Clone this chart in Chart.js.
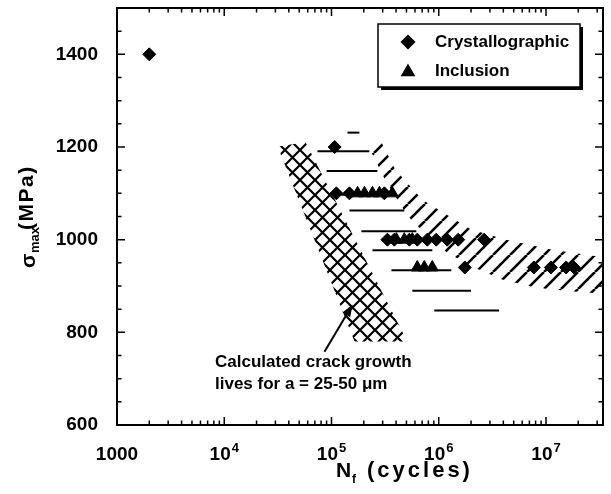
<!DOCTYPE html>
<html>
<head>
<meta charset="utf-8">
<script src="https://cdn.jsdelivr.net/npm/chart.js@4.4.1/dist/chart.umd.min.js"></script>
<style>
  html, body { margin: 0; padding: 0; background: #fff; }
  #wrap { width: 611px; height: 494px; }
</style>
</head>
<body>
<div id="wrap"><canvas id="chart" width="611" height="494"></canvas></div>
<script>
// Fatigue lives (cycles) and peak stress (MPa)
const crystN = [2000, 107000, 111000, 147000, 311000, 332000, 385000, 532000, 631000, 782000, 948000, 1200000, 1520000, 2650000, 1750000, 7700000, 11100000, 15400000, 18200000];
const crystS = [1400, 1200, 1100, 1100, 1100, 1000, 1000, 1000, 1000, 1000, 1000, 1000, 1000, 1000, 940, 940, 940, 940, 940];

const inclN = [175000, 203000, 241000, 280000, 369000, 403000, 477000, 567000, 631000, 733000, 870000];
const inclS = [1100, 1100, 1100, 1100, 1100, 1000, 1000, 1000, 940, 940, 940];

// horizontal hatch dashes of the scatter band (stress, start, end)
const dashS = [1231, 1191, 1148, 1097, 1063, 1018, 977, 934, 890, 847];
const dashFrom = [141000, 74000, 90000, 114000, 147000, 190000, 241000, 362000, 567000, 908000];
const dashTo = [182000, 225000, 268000, 385000, 477000, 618000, 871000, 1310000, 2000000, 3650000];

// diagonal-hatched part of the band: upper and lower edges
const bandTopN = [292000, 394000, 703000, 1310000, 2000000, 4250000, 11400000, 36000000];
const bandTopS = [1210, 1151, 1086, 1048, 1022, 1000, 978, 961];
const bandLowN = [236000, 318000, 509000, 816000, 1200000, 2140000, 3900000, 8100000, 18200000, 36000000];
const bandLowS = [1188, 1128, 1052, 1004, 972, 940, 914, 896, 888, 883];

// calculated crack growth lives, a = 25-50 um
const crackN = [31500, 57300, 509000, 164000];
const crackS = [1201, 1210, 780, 780];

// arrow from the note to the crack growth band
const arrowN = [86000, 157000];
const arrowS = [758, 860];

const xTickValues = [1e3, 1e4, 1e5, 1e6, 1e7];
const xTickBase = ['1000', '10', '10', '10', '10'];
const xTickExp = ['', '4', '5', '6', '7'];
const yTickValues = [600, 800, 1000, 1200, 1400];

const FONT = '"Liberation Sans", Arial, Helvetica, sans-serif';
Chart.defaults.font.family = FONT;
Chart.defaults.color = '#000';

const canvas = document.getElementById('chart');
const ctx0 = canvas.getContext('2d');

function hatch(size, width, cross) {
  const c = document.createElement('canvas');
  c.width = size; c.height = size;
  const g = c.getContext('2d');
  g.strokeStyle = '#000';
  g.lineWidth = width;
  g.beginPath();
  for (let o = -size; o <= size; o += size) {
    g.moveTo(o, size); g.lineTo(o + size, 0);
    if (cross) { g.moveTo(o, 0); g.lineTo(o + size, size); }
  }
  g.stroke();
  return ctx0.createPattern(c, 'repeat');
}
const diagFill = hatch(17, 2.6, false);
const crossFill = hatch(15, 2.2, true);

const pts = (xs, ys) => xs.map((v, i) => ({ x: v, y: ys[i] }));

const datasets = [
  {
    label: 'Crystallographic', data: pts(crystN, crystS), showLine: false,
    pointStyle: 'rectRot', pointRadius: 6.5, backgroundColor: '#000', borderColor: '#000', borderWidth: 1
  },
  {
    label: 'Inclusion', data: pts(inclN, inclS), showLine: false,
    pointStyle: 'triangle', pointRadius: 7, backgroundColor: '#000', borderColor: '#000', borderWidth: 1
  },
  ...dashS.map((s, i) => ({
    data: [{ x: dashFrom[i], y: s }, { x: dashTo[i], y: s }], showLine: true,
    borderColor: '#000', borderWidth: 2, pointRadius: 0
  })),
  {
    data: pts(bandTopN, bandTopS).concat(pts(bandLowN, bandLowS).reverse()), showLine: true,
    fill: 'shape', backgroundColor: diagFill, borderColor: 'rgba(0,0,0,0)', borderWidth: 0, pointRadius: 0
  },
  {
    data: pts(crackN, crackS), showLine: true,
    fill: 'shape', backgroundColor: crossFill, borderColor: 'rgba(0,0,0,0)', borderWidth: 0, pointRadius: 0
  }
];

// frame, inward ticks on all four sides, x tick labels with exponents
const frame = {
  id: 'frame',
  afterDatasetsDraw(chart) {
    const { ctx, chartArea: a, scales: { x, y } } = chart;
    ctx.save();
    ctx.strokeStyle = '#000';
    ctx.lineWidth = 1.5;
    ctx.beginPath();
    for (let d = 1e3; d <= 1e7; d *= 10) {
      for (let m = 1; m < 10; m++) {
        const v = m * d;
        if (v > x.max) break;
        const px = x.getPixelForValue(v);
        const len = m === 1 ? 8 : 4.5;
        ctx.moveTo(px, a.bottom); ctx.lineTo(px, a.bottom - len);
        ctx.moveTo(px, a.top); ctx.lineTo(px, a.top + len);
      }
    }
    for (let v = 600; v <= 1500; v += 50) {
      const py = y.getPixelForValue(v);
      const len = v % 200 === 0 ? 8 : 4.5;
      ctx.moveTo(a.left, py); ctx.lineTo(a.left + len, py);
      ctx.moveTo(a.right, py); ctx.lineTo(a.right - len, py);
    }
    ctx.stroke();
    ctx.lineWidth = 2;
    ctx.strokeRect(a.left, a.top, a.right - a.left, a.bottom - a.top);

    ctx.fillStyle = '#000';
    ctx.textBaseline = 'alphabetic';
    ctx.textAlign = 'left';
    xTickValues.forEach((v, i) => {
      const px = x.getPixelForValue(v);
      ctx.font = 'bold 19px ' + FONT;
      const wb = ctx.measureText(xTickBase[i]).width;
      ctx.font = 'bold 13px ' + FONT;
      const we = xTickExp[i] ? ctx.measureText(xTickExp[i]).width + 1 : 0;
      const left = px - (wb + we) / 2;
      ctx.font = 'bold 19px ' + FONT;
      ctx.fillText(xTickBase[i], left, a.bottom + 35);
      if (we) {
        ctx.font = 'bold 13px ' + FONT;
        ctx.fillText(xTickExp[i], left + wb + 1, a.bottom + 27);
      }
    });
    ctx.restore();
  }
};

// legend box, note, arrow and axis titles with subscripts
const extras = {
  id: 'extras',
  afterDraw(chart) {
    const { ctx, scales: { x, y } } = chart;
    ctx.save();
    ctx.fillStyle = '#000';
    ctx.strokeStyle = '#000';

    // legend
    ctx.fillRect(381, 27, 202, 63);
    ctx.fillStyle = '#fff';
    ctx.fillRect(378, 24, 202, 63);
    ctx.lineWidth = 1.5;
    ctx.strokeRect(378, 24, 202, 63);
    ctx.fillStyle = '#000';
    const items = [
      { text: 'Crystallographic', style: 'rectRot', r: 6.5, y: 42, base: 47 },
      { text: 'Inclusion', style: 'triangle', r: 7, y: 72, base: 76 }
    ];
    ctx.font = 'bold 17px ' + FONT;
    ctx.textBaseline = 'alphabetic';
    items.forEach(it => {
      Chart.helpers.drawPoint(ctx, { pointStyle: it.style, radius: it.r, borderWidth: 1, rotation: 0 }, 408, it.y);
      ctx.fillText(it.text, 435, it.base);
    });

    // arrow
    const x0 = x.getPixelForValue(arrowN[0]), y0 = y.getPixelForValue(arrowS[0]);
    const x1 = x.getPixelForValue(arrowN[1]), y1 = y.getPixelForValue(arrowS[1]);
    const ang = Math.atan2(y1 - y0, x1 - x0);
    const c = Math.cos(ang), s = Math.sin(ang);
    ctx.lineWidth = 2;
    ctx.beginPath();
    ctx.moveTo(x0, y0);
    ctx.lineTo(x1 - 8 * c, y1 - 8 * s);
    ctx.stroke();
    ctx.beginPath();
    ctx.moveTo(x1, y1);
    ctx.lineTo(x1 - 12 * c + 4.5 * s, y1 - 12 * s - 4.5 * c);
    ctx.lineTo(x1 - 12 * c - 4.5 * s, y1 - 12 * s + 4.5 * c);
    ctx.closePath();
    ctx.fill();

    // note
    const nx = x.getPixelForValue(8200), ny = y.getPixelForValue(725);
    ctx.font = 'bold 17px ' + FONT;
    ctx.fillText('Calculated crack growth', nx, ny);
    ctx.fillText('lives for a = 25-50 \u03bcm', nx, ny + 22);

    // x title: N_f (cycles)
    ctx.font = 'bold 21px ' + FONT;
    ctx.fillText('N', 336, 477);
    ctx.font = 'bold 12px ' + FONT;
    ctx.fillText('f', 352, 483);
    ctx.font = 'bold 22px ' + FONT;
    ctx.letterSpacing = '3px';
    ctx.fillText('(cycles)', 367, 477);
    ctx.letterSpacing = '0px';

    // y title: sigma_max (MPa)
    ctx.translate(35, 268);
    ctx.rotate(-Math.PI / 2);
    ctx.font = 'bold 21px ' + FONT;
    ctx.fillText('\u03c3', 0, 0);
    ctx.font = 'bold 13px ' + FONT;
    ctx.fillText('max', 15, 4);
    ctx.font = 'bold 21px ' + FONT;
    ctx.letterSpacing = '1.5px';
    ctx.fillText('(MPa)', 38, -2);
    ctx.letterSpacing = '0px';
    ctx.restore();
  }
};

new Chart(canvas, {
  type: 'scatter',
  data: { datasets },
  options: {
    responsive: false,
    animation: false,
    events: [],
    layout: { padding: { top: 8, right: 7, bottom: 0, left: 0 } },
    plugins: { legend: { display: false }, tooltip: { enabled: false } },
    scales: {
      x: {
        type: 'logarithmic', min: 1000, max: 3.4e7,
        grid: { display: false, drawTicks: false }, border: { display: false },
        afterBuildTicks: s => { s.ticks = xTickValues.map(v => ({ value: v })); },
        afterFit: s => { s.height = 69; s.paddingLeft = 0; s.paddingRight = 0; },
        ticks: { display: false }
      },
      y: {
        type: 'linear', min: 600, max: 1500,
        grid: { display: false, drawTicks: false }, border: { display: false },
        afterBuildTicks: s => { s.ticks = yTickValues.map(v => ({ value: v })); },
        afterFit: s => { s.width = 117; s.paddingTop = 0; s.paddingBottom = 0; },
        ticks: {
          padding: 19, color: '#000',
          font: { size: 19, weight: 'bold' },
          callback: v => String(v)
        }
      }
    }
  },
  plugins: [frame, extras]
});
</script>
</body>
</html>
